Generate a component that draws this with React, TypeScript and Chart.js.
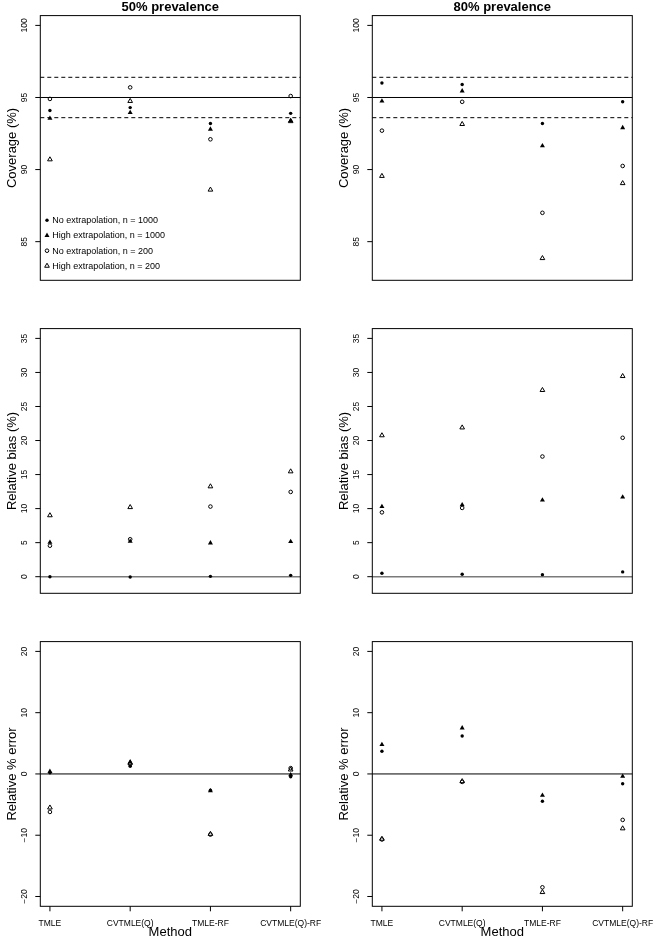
import { useEffect, useRef } from 'react';
import { Chart, registerables } from 'chart.js';
import { drawPoint } from 'chart.js/helpers';

Chart.register(...registerables);

const FONT = '"Liberation Sans", Arial, Helvetica, sans-serif';

// categories
const METHODS = ['TMLE', 'CVTMLE(Q)', 'TMLE-RF', 'CVTMLE(Q)-RF'];
const X_POS = [1, 2, 3, 4];
const SERIES_LABELS = [
  'No extrapolation, n = 1000',
  'High extrapolation, n = 1000',
  'No extrapolation, n = 200',
  'High extrapolation, n = 200',
];

// axis limits (R style, extended 4% on each side) and ticks
const X_LIM = [1, 4];
const COV_LIM = [83, 100];
const BIAS_LIM = [-1, 35];
const ERR_LIM = [-20, 20];
const COV_TICKS = [85, 90, 95, 100];
const BIAS_TICKS = [0, 5, 10, 15, 20, 25, 30, 35];
const ERR_TICKS = [-20, -10, 0, 10, 20];

// reference lines
const COV_TARGET = 95;
const COV_BAND = [93.6, 96.4];
const ZERO = 0;

// coverage (%), 50% prevalence
const cov50NoExt1000 = [94.1, 94.3, 93.2, 93.9];
const cov50HiExt1000 = [93.55, 93.95, 92.8, 93.4];
const cov50NoExt200 = [94.9, 95.7, 92.1, 95.1];
const cov50HiExt200 = [90.7, 94.75, 88.6, 93.35];

// coverage (%), 80% prevalence
const cov80NoExt1000 = [96.0, 95.9, 93.2, 94.7];
const cov80HiExt1000 = [94.75, 95.45, 91.65, 92.9];
const cov80NoExt200 = [92.7, 94.7, 87.0, 90.25];
const cov80HiExt200 = [89.55, 93.15, 83.85, 89.05];

// relative bias (%), 50% prevalence
const bias50NoExt1000 = [0.0, -0.05, 0.05, 0.2];
const bias50HiExt1000 = [5.05, 5.2, 4.95, 5.15];
const bias50NoExt200 = [4.55, 5.5, 10.3, 12.45];
const bias50HiExt200 = [9.0, 10.2, 13.25, 15.45];

// relative bias (%), 80% prevalence
const bias80NoExt1000 = [0.5, 0.35, 0.3, 0.7];
const bias80HiExt1000 = [10.3, 10.55, 11.25, 11.7];
const bias80NoExt200 = [9.45, 10.1, 17.65, 20.4];
const bias80HiExt200 = [20.75, 21.9, 27.4, 29.45];

// relative % error, 50% prevalence
const err50NoExt1000 = [0.2, 1.25, -2.65, -0.45];
const err50HiExt1000 = [0.4, 1.95, -2.75, -0.15];
const err50NoExt200 = [-6.2, 1.6, -9.9, 0.95];
const err50HiExt200 = [-5.5, 1.8, -9.8, 0.7];

// relative % error, 80% prevalence
const err80NoExt1000 = [3.7, 6.2, -4.45, -1.6];
const err80HiExt1000 = [4.8, 7.5, -3.5, -0.4];
const err80NoExt200 = [-10.7, -1.3, -18.5, -7.5];
const err80HiExt200 = [-10.6, -1.2, -19.3, -8.9];

const MARKERS = [
  { pointStyle: 'circle', radius: 1.7, filled: true },
  { pointStyle: 'triangle', radius: 2.9, filled: true },
  { pointStyle: 'circle', radius: 1.8, filled: false },
  { pointStyle: 'triangle', radius: 2.7, filled: false },
];

const TICK_LEN = 5;

const expand = ([lo, hi]: number[]) => {
  const d = (hi - lo) * 0.04;
  return [lo - d, hi + d];
};

const fmt = (v: number) => (v < 0 ? '\u2212' + Math.abs(v) : String(v));

// R-like frame: box, reference lines, tick marks, rotated y tick labels, legend
const rFrame = {
  id: 'rFrame',
  beforeDatasetsDraw(chart: any, _args: any, opts: any) {
    const { ctx, chartArea: a, scales } = chart;
    const { x, y } = scales;
    ctx.save();
    (opts.lines || []).forEach((l: any) => {
      const py = y.getPixelForValue(l.value);
      ctx.beginPath();
      ctx.setLineDash(l.dash || []);
      ctx.strokeStyle = l.color || '#000';
      ctx.lineWidth = l.width || 1;
      ctx.moveTo(a.left, py);
      ctx.lineTo(a.right, py);
      ctx.stroke();
    });
    ctx.setLineDash([]);
    ctx.strokeStyle = '#000';
    ctx.lineWidth = 1;
    ctx.strokeRect(a.left, a.top, a.right - a.left, a.bottom - a.top);

    ctx.beginPath();
    y.ticks.forEach((t: any) => {
      const py = y.getPixelForValue(t.value);
      ctx.moveTo(a.left, py);
      ctx.lineTo(a.left - TICK_LEN, py);
    });
    if (opts.xTicks) {
      x.ticks.forEach((t: any) => {
        const px = x.getPixelForValue(t.value);
        ctx.moveTo(px, a.bottom);
        ctx.lineTo(px, a.bottom + TICK_LEN);
      });
    }
    ctx.stroke();

    ctx.font = `8.5px ${FONT}`;
    ctx.fillStyle = '#000';
    ctx.textAlign = 'center';
    ctx.textBaseline = 'alphabetic';
    y.ticks.forEach((t: any) => {
      const py = y.getPixelForValue(t.value);
      ctx.save();
      ctx.translate(a.left - 13.6, py);
      ctx.rotate(-Math.PI / 2);
      ctx.fillText(fmt(t.value), 0, 0);
      ctx.restore();
    });

    if (opts.legend) {
      ctx.font = `9px ${FONT}`;
      ctx.textAlign = 'left';
      ctx.textBaseline = 'middle';
      chart.data.datasets.forEach((ds: any, i: number) => {
        const ly = a.bottom - 60 + i * 15.2;
        const m = MARKERS[i];
        ctx.fillStyle = m.filled ? '#000' : 'rgba(0,0,0,0)';
        ctx.strokeStyle = '#000';
        ctx.lineWidth = 1;
        drawPoint(ctx, { pointStyle: m.pointStyle as any, rotation: 0, radius: m.radius, borderWidth: m.filled ? 0 : 1 }, a.left + 6.7, ly);
        ctx.fillStyle = '#000';
        ctx.fillText(ds.label, a.left + 12, ly + 0.5);
      });
    }
    ctx.restore();
  },
};

type PanelProps = {
  title?: string;
  yLabel: string;
  yLim: number[];
  yTicks: number[];
  values: number[][];
  lines: { value: number; dash?: number[]; color?: string; width?: number }[];
  showX?: boolean;
  showLegend?: boolean;
};

function Panel({ title, yLabel, yLim, yTicks, values, lines, showX, showLegend }: PanelProps) {
  const canvasRef = useRef<HTMLCanvasElement>(null);
  const chartRef = useRef<Chart | null>(null);

  useEffect(() => {
    if (!canvasRef.current) return;
    if (chartRef.current) chartRef.current.destroy();

    const [xMin, xMax] = expand(X_LIM);
    const [yMin, yMax] = expand(yLim);

    chartRef.current = new Chart(canvasRef.current, {
      type: 'scatter',
      data: {
        datasets: values.map((vals, i) => ({
          label: SERIES_LABELS[i],
          data: X_POS.map((x, j) => ({ x, y: vals[j] })),
          pointStyle: MARKERS[i].pointStyle as any,
          pointRadius: MARKERS[i].radius,
          pointBackgroundColor: MARKERS[i].filled ? '#000' : 'rgba(0,0,0,0)',
          pointBorderColor: '#000',
          pointBorderWidth: MARKERS[i].filled ? 0 : 1,
          showLine: false,
        })),
      },
      options: {
        responsive: false,
        animation: false,
        events: [],
        layout: { padding: { top: title ? 0 : 15.6, right: 31.7, left: 0, bottom: 0 } },
        plugins: {
          legend: { display: false },
          tooltip: { enabled: false },
          title: {
            display: !!title,
            text: title || '',
            fullSize: false,
            color: '#000',
            padding: 0,
            font: { family: FONT, size: 13, weight: 'bold', lineHeight: 1.2 },
          },
          rFrame: { lines, legend: !!showLegend, xTicks: !!showX },
        } as any,
        scales: {
          x: {
            type: 'linear',
            min: xMin,
            max: xMax,
            afterBuildTicks: (s: any) => {
              s.ticks = X_POS.map(v => ({ value: v }));
            },
            afterFit: (s: any) => {
              s.height = 32.7;
              s.paddingLeft = 0;
              s.paddingRight = 0;
            },
            border: { display: false },
            grid: { display: false, drawTicks: false },
            ticks: {
              display: !!showX,
              autoSkip: false,
              maxRotation: 0,
              padding: 12,
              color: '#000',
              font: { family: FONT, size: 8.5 },
              callback: (v: any) => METHODS[Number(v) - 1],
            },
            title: {
              display: !!showX,
              text: 'Method',
              color: '#000',
              padding: 0,
              font: { family: FONT, size: 13, lineHeight: 1 },
            },
          },
          y: {
            min: yMin,
            max: yMax,
            afterBuildTicks: (s: any) => {
              s.ticks = yTicks.map(v => ({ value: v }));
            },
            afterFit: (s: any) => {
              s.width = 40.3;
              s.paddingTop = 0;
              s.paddingBottom = 0;
            },
            border: { display: false },
            grid: { display: false, drawTicks: false },
            ticks: { display: false },
            title: {
              display: true,
              text: yLabel,
              color: '#000',
              padding: { top: 6, bottom: 0 },
              font: { family: FONT, size: 13, lineHeight: 1 },
            },
          },
        },
      },
      plugins: [rFrame],
    });

    return () => chartRef.current?.destroy();
  }, [title, yLabel, yLim, yTicks, values, lines, showX, showLegend]);

  return <canvas ref={canvasRef} width={332} height={313} style={{ width: 332, height: 313, display: 'block' }} />;
}

const COV_LINES = [
  { value: COV_TARGET },
  { value: COV_BAND[0], dash: [4, 3] },
  { value: COV_BAND[1], dash: [4, 3] },
];
const BIAS_LINES = [{ value: ZERO, color: '#7a7a7a', width: 1.6 }];
const ERR_LINES = [{ value: ZERO }];

export default function App() {
  return (
    <div
      style={{
        position: 'absolute',
        left: 0,
        top: 0,
        width: 664,
        height: 939,
        background: '#fff',
        display: 'grid',
        gridTemplateColumns: '332px 332px',
        gridTemplateRows: '313px 313px 313px',
      }}
    >
      <Panel
        title="50% prevalence"
        yLabel="Coverage (%)"
        yLim={COV_LIM}
        yTicks={COV_TICKS}
        values={[cov50NoExt1000, cov50HiExt1000, cov50NoExt200, cov50HiExt200]}
        lines={COV_LINES}
        showLegend
      />
      <Panel
        title="80% prevalence"
        yLabel="Coverage (%)"
        yLim={COV_LIM}
        yTicks={COV_TICKS}
        values={[cov80NoExt1000, cov80HiExt1000, cov80NoExt200, cov80HiExt200]}
        lines={COV_LINES}
      />
      <Panel
        yLabel="Relative bias (%)"
        yLim={BIAS_LIM}
        yTicks={BIAS_TICKS}
        values={[bias50NoExt1000, bias50HiExt1000, bias50NoExt200, bias50HiExt200]}
        lines={BIAS_LINES}
      />
      <Panel
        yLabel="Relative bias (%)"
        yLim={BIAS_LIM}
        yTicks={BIAS_TICKS}
        values={[bias80NoExt1000, bias80HiExt1000, bias80NoExt200, bias80HiExt200]}
        lines={BIAS_LINES}
      />
      <Panel
        yLabel="Relative % error"
        yLim={ERR_LIM}
        yTicks={ERR_TICKS}
        values={[err50NoExt1000, err50HiExt1000, err50NoExt200, err50HiExt200]}
        lines={ERR_LINES}
        showX
      />
      <Panel
        yLabel="Relative % error"
        yLim={ERR_LIM}
        yTicks={ERR_TICKS}
        values={[err80NoExt1000, err80HiExt1000, err80NoExt200, err80HiExt200]}
        lines={ERR_LINES}
        showX
      />
    </div>
  );
}
